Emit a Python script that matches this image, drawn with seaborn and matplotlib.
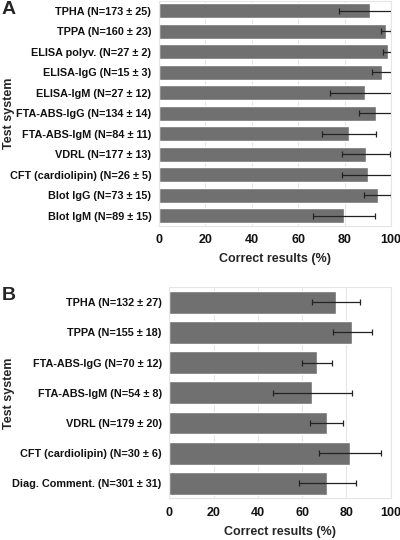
import matplotlib
matplotlib.use("Agg")
import matplotlib.pyplot as plt
import seaborn as sns
import pandas as pd

# panel A
tests_a = ['TPHA (N=173 ± 25)', 'TPPA (N=160 ± 23)', 'ELISA polyv. (N=27 ± 2)',
           'ELISA-IgG (N=15 ± 3)', 'ELISA-IgM (N=27 ± 12)', 'FTA-ABS-IgG (N=134 ± 14)',
           'FTA-ABS-IgM (N=84 ± 11)', 'VDRL (N=177 ± 13)', 'CFT (cardiolipin) (N=26 ± 5)',
           'Blot IgG (N=73 ± 15)', 'Blot IgM (N=89 ± 15)']
correct_a = [91.0, 97.8, 98.8, 96.2, 88.7, 93.4, 81.9, 89.3, 90.2, 94.3, 79.7]
sd_a = [13.4, 2.0, 2.3, 4.6, 15.0, 7.2, 11.5, 10.3, 11.2, 5.8, 13.2]

# panel B
tests_b = ['TPHA (N=132 ± 27)', 'TPPA (N=155 ± 18)', 'FTA-ABS-IgG (N=70 ± 12)',
           'FTA-ABS-IgM (N=54 ± 8)', 'VDRL (N=179 ± 20)', 'CFT (cardiolipin) (N=30 ± 6)',
           'Diag. Comment. (N=301 ± 31)']
correct_b = [75.4, 82.7, 66.6, 64.6, 71.1, 81.6, 71.4]
sd_b = [10.8, 8.7, 6.7, 17.9, 7.5, 13.8, 12.8]

sns.set_theme(style='white')
plt.rcParams['font.family'] = ['Liberation Sans', 'DejaVu Sans']
plt.rcParams['font.weight'] = 'bold'

fig = plt.figure(figsize=(4, 5.4), dpi=100)
ax_a = fig.add_axes([159 / 400, 1 - 226 / 540, 232 / 400, 225.5 / 540])
ax_b = fig.add_axes([169.3 / 400, 1 - 498.4 / 540, 221.4 / 400, 211.2 / 540])


def draw_panel(ax, tests, correct, sd, width):
    df = pd.DataFrame({'test': tests, 'correct': correct})
    sns.barplot(data=df, x='correct', y='test', orient='h', color='#707070',
                saturation=1, width=width, errorbar=None, ax=ax)
    ax.errorbar(correct, range(len(tests)), xerr=sd, fmt='none', ecolor='#222222',
                elinewidth=0.9, capsize=2, capthick=0.9)
    ax.set_xlim(0, 100)
    ax.set_ylim(len(tests) - 0.5, -0.5)
    ax.set_xticks([0, 20, 40, 60, 80, 100])
    ax.grid(axis='x', color='#e6e6e6', linewidth=0.8)
    ax.set_axisbelow(True)
    for s in ax.spines.values():
        s.set_color('#e6e6e6')
        s.set_linewidth(0.8)
    ax.tick_params(length=0, labelsize=7.8, pad=5.5, labelcolor='#111111')
    for t in ax.get_xticklabels() + ax.get_yticklabels():
        t.set_fontweight('bold')
    ax.tick_params(axis='x', labelsize=9, pad=6)
    ax.set_ylabel('')
    ax.set_xlabel('Correct results (%)', fontsize=9, fontweight='bold', labelpad=5)


draw_panel(ax_a, tests_a, correct_a, sd_a, 0.72)
draw_panel(ax_b, tests_b, correct_b, sd_b, 0.76)

fig.text(0.005, 1 - 9 / 540, 'A', fontsize=14, fontweight='bold', va='center')
fig.text(0.005, 1 - 295 / 540, 'B', fontsize=14, fontweight='bold', va='center')
fig.text(0.022, 1 - 113 / 540, 'Test system', rotation=90, fontsize=9,
         fontweight='bold', ha='center', va='center')
fig.text(0.022, 1 - 393 / 540, 'Test system', rotation=90, fontsize=9,
         fontweight='bold', ha='center', va='center')

fig.savefig('out.png', dpi=100)
